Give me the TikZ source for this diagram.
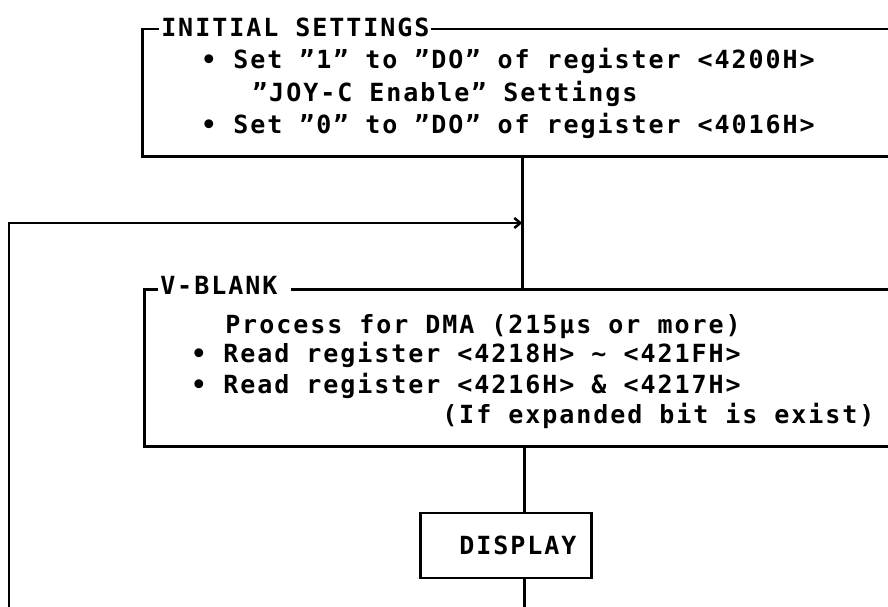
\documentclass[tikz,border=0pt]{standalone}
\usepackage{fontspec}
\setmainfont{DejaVu Sans Mono}[LetterSpace=7.8]
\usetikzlibrary{arrows.meta}
\begin{document}
\begin{tikzpicture}[x=1pt,y=-1pt, line width=2.5pt,
  box/.style={draw, rectangle, inner sep=0pt, anchor=north west},
  ttl/.style={fill=white, inner xsep=2pt, inner ysep=0pt, anchor=base west, font=\bfseries\fontsize{25}{30}\selectfont},
  txt/.style={inner sep=0pt, anchor=base west, font=\bfseries\fontsize{25}{30}\selectfont},
  tip/.style={-{Straight Barb[length=6pt,width=10pt]}}
  ]
\useasboundingbox (0,0) rectangle (888,607);
\clip (0,0) rectangle (888,607);

% INITIAL SETTINGS box
\node[box, minimum width=760pt, minimum height=127pt] (init) at (141,28) {};
\node[ttl] (t1) at (158,37) {INITIAL SETTINGS};
\node[txt] (l1) at (200,69) {• Set "1" to "DO" of register <4200H>};
\node[txt] (l2) at (251,102) {"JOY-C Enable" Settings};
\node[txt] (l3) at (200,134) {• Set "0" to "DO" of register <4016H>};

% V-BLANK box
\node[box, minimum width=760pt, minimum height=157pt] (vb) at (143,288) {};
\node[ttl] (t2) at (157,294) {V-BLANK\hspace*{12pt}};
\node[txt] (p0) at (224,333) {Process for DMA (215μs or more)};
\node[txt] (r1) at (190,362) {• Read register <4218H> {\char"7E} <421FH>};
\node[txt] (r2) at (190,393) {• Read register <4216H> \& <4217H>};
\node[txt] (r3) at (441,423) {(If expanded bit is exist)};

% DISPLAY box
\node[draw, minimum width=171pt, minimum height=65pt, inner sep=0pt,
      font=\bfseries\fontsize{25}{30}\selectfont] (disp) at (506,545.5) {\hspace*{24pt}DISPLAY};

% connectors
\coordinate (loopy) at (0,223);
\coordinate (loopbot) at (9,615);
\coordinate (bot) at (0,615);
\draw (init.south) -- (vb.north -| init.south);
\draw[tip] (loopbot) |- (init.south |- loopy);
\draw (vb.south) -- (vb.south |- disp.north);
\draw (disp.south -| vb.south) -- (vb.south |- bot);
\end{tikzpicture}
\end{document}
